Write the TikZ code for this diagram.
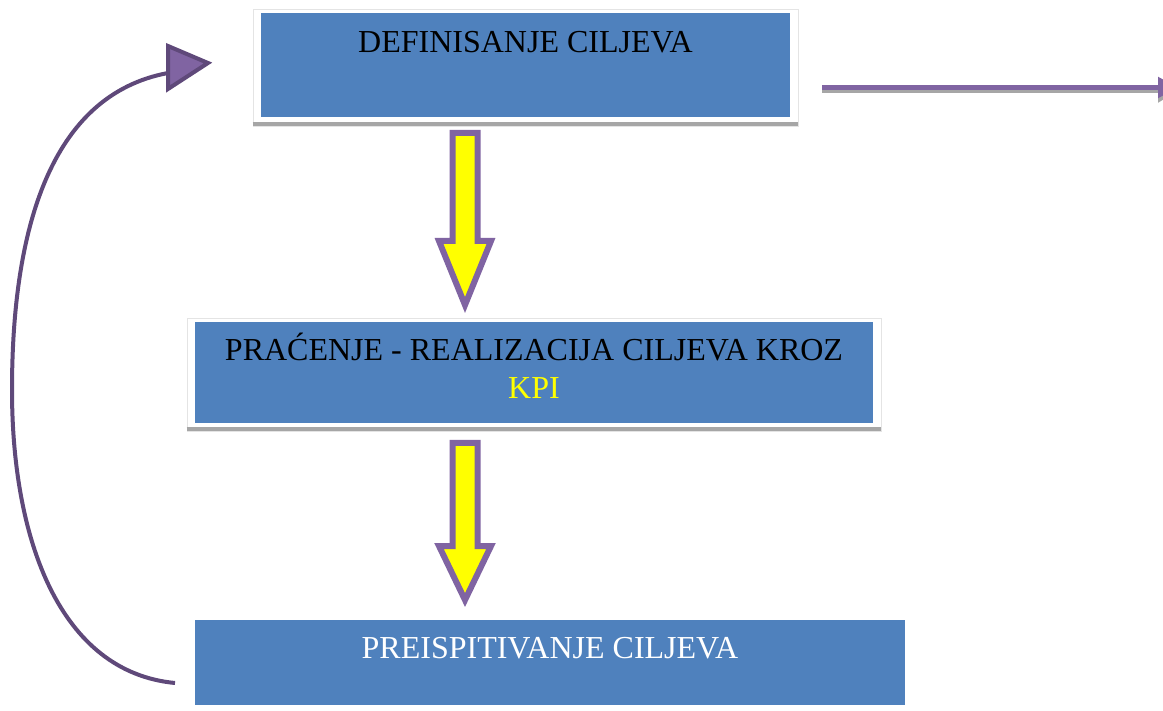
\documentclass[tikz,border=0pt]{standalone}
\usepackage{fontspec}
\setmainfont{Liberation Serif}
\usetikzlibrary{arrows.meta,calc}
\definecolor{boxblue}{RGB}{79,129,189}
\definecolor{lilac}{RGB}{128,100,162}
\definecolor{darklilac}{RGB}{95,73,122}
\definecolor{bargray}{RGB}{166,166,166}
\definecolor{framegray}{RGB}{228,228,228}
\definecolor{kpiyellow}{RGB}{255,255,0}
\begin{document}
\begin{tikzpicture}[x=1pt,y=-1pt,
  frame/.style={draw=framegray, line width=0.8pt, fill=white, inner sep=0pt},
  bluebox/.style={fill=boxblue, draw=none, inner sep=0pt},
  bar/.style={draw=bargray, line width=4pt},
  lbl/.style={anchor=base, font=\fontsize{32}{36}\selectfont, inner sep=0pt},
  fatarrow/.style={draw=lilac, fill=kpiyellow, line width=6pt, line join=miter},
  flowline/.style={draw=lilac, line width=5pt},
  loopline/.style={draw=darklilac, line width=4pt},
  loophead/.style={draw=darklilac, fill=lilac, line width=4pt, line join=miter}
]
\clip (0,0) rectangle (1163,711);
\fill[white] (0,0) rectangle (1163,711);

% top box
\node[frame, minimum width=545pt, minimum height=117pt] (topframe) at (525.5,67.5) {};
\draw[bar] ($(topframe.south west)+(0,-2)$) -- ($(topframe.south east)+(0,-2)$);
\node[bluebox, minimum width=529pt, minimum height=104pt] (top) at (525.5,65) {};
\node[lbl] (toptext) at (525.5,53) {DEFINISANJE CILJEVA};

% middle box
\node[frame, minimum width=694pt, minimum height=113pt] (midframe) at (534,374.5) {};
\draw[bar] ($(midframe.south west)+(0,-2)$) -- ($(midframe.south east)+(0,-2)$);
\node[bluebox, minimum width=678pt, minimum height=101pt] (mid) at (534,372.5) {};
\node[lbl] (midtext) at (534,361) {PRAĆENJE - REALIZACIJA CILJEVA KROZ};
\node[lbl, text=kpiyellow] (kpitext) at (534,399) {KPI};

% bottom box
\node[bluebox, minimum width=710pt, minimum height=85pt] (bot) at (550,662.5) {};
\node[lbl, text=white] (bottext) at (550,658) {PREISPITIVANJE CILJEVA};

% yellow arrows
\coordinate (a1) at (465,133);
\draw[fatarrow, shift={(a1)}] (-12.5,0) -- (12.5,0) -- (12.5,108) -- (26,108) -- (0,172) -- (-26,108) -- (-12.5,108) -- cycle;
\coordinate (a2) at (465,443);
\draw[fatarrow, shift={(a2)}] (-12.5,0) -- (12.5,0) -- (12.5,103) -- (26,103) -- (0,157) -- (-26,103) -- (-12.5,103) -- cycle;

% right arrow
\coordinate (rstart) at ($(topframe.east)+(24,20)$);
\coordinate (rend) at (1178,87.5);
\draw[draw=bargray, line width=5pt, -{Triangle[length=20pt,width=22pt]}] ($(rstart)+(0,3.5)$) -- ($(rend)+(0,3.5)$);
\draw[flowline, -{Triangle[length=20pt,width=20pt]}, lilac] (rstart) -- (rend);

% loop arrow
\coordinate (lstart) at (175,683);
\coordinate (lend) at (168,73);
\draw[loopline] (lstart) .. controls (60,672) and (12,540) .. (12,390)
  .. controls (12,230) and (50,95) .. (lend);
\draw[loophead] (168,46) -- (168,89) -- (208,63) -- cycle;
\end{tikzpicture}
\end{document}
